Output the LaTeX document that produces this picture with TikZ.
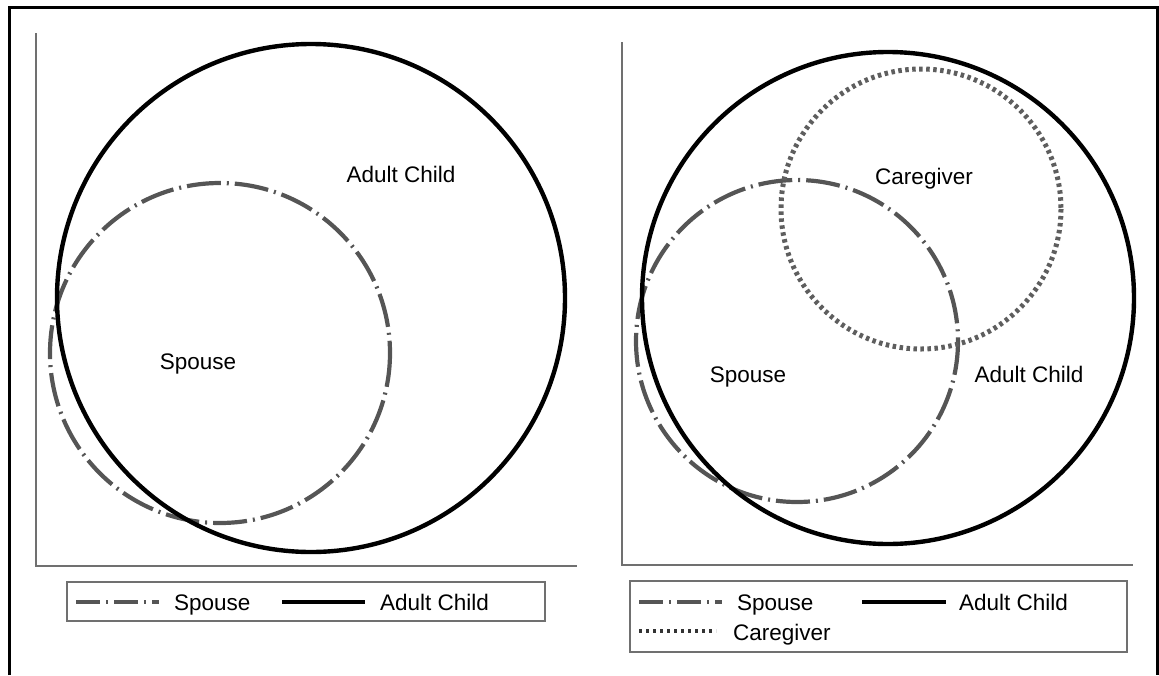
\documentclass[tikz,border=0pt]{standalone}
\usepackage{fontspec}
\setmainfont{Liberation Sans}
\usetikzlibrary{positioning}
\definecolor{spousegray}{HTML}{555555}
\definecolor{caregray}{HTML}{5E5E5E}
\definecolor{axisgray}{HTML}{707070}

\begin{document}
\begin{tikzpicture}[x=1pt, y=-1pt, font=\fontsize{22.5}{26}\selectfont,
  child/.style={draw=black, line width=4.4pt},
  spouse/.style={draw=spousegray, line width=4.2pt, dash pattern=on 34pt off 6pt on 2pt off 6pt},
  carer/.style={draw=caregray, line width=5pt, dash pattern=on 3.5pt off 3.5pt},
  axisline/.style={draw=axisgray, line width=1.8pt},
  legbox/.style={draw=axisgray, line width=1.8pt},
  lab/.style={inner sep=0pt, anchor=base},
  leglab/.style={inner sep=0pt, anchor=base west}]
  \useasboundingbox (0,0) rectangle (1159,675);
  % --- frame ---
  \draw[line width=3pt] (9,675) -- (9,7) -- (1157,7) -- (1157,675);
  % --- panel 1: spouse and adult child ---
  \draw[axisline] (36,33) -- (36,566) -- (577,566);
  \draw[spouse] (220,353) circle (170);
  \draw[child] (311,298) circle (254);
  \node[lab] (childA) at (401,182) {Adult Child};
  \node[lab] (spouseA) at (198,369) {Spouse};
  % --- panel 2: spouse, adult child and caregiver ---
  \draw[axisline] (622,42) -- (622,565) -- (1133,565);
  \draw[spouse] (797,341) circle (161);
  \draw[child] (888,298) circle (246);
  \draw[carer] (921,209) circle (140);
  \node[lab] (careB) at (924,184) {Caregiver};
  \node[lab] (spouseB) at (748,382) {Spouse};
  \node[lab] (childB) at (1029,382) {Adult Child};
  % --- legend 1 ---
  \draw[legbox] (67,582) rectangle (545,621);
  \coordinate (ls0) at (76,602);  \coordinate (ls1) at (159,602);
  \coordinate (lc0) at (282,602); \coordinate (lc1) at (365,602);
  \draw[spouse, line width=4.6pt, dash pattern=on 24pt off 6pt on 2pt off 6pt] (ls0) -- (ls1);
  \draw[child, line width=4.6pt] (lc0) -- (lc1);
  \node[leglab] (legSpouseA) at (174,610) {Spouse};
  \node[leglab] (legChildA) at (380,610) {Adult Child};
  % --- legend 2 ---
  \draw[legbox] (630,581) rectangle (1127,652);
  \coordinate (rs0) at (639,602); \coordinate (rs1) at (722,602);
  \coordinate (rc0) at (862,602); \coordinate (rc1) at (946,602);
  \coordinate (rd0) at (639,631); \coordinate (rd1) at (716,631);
  \draw[spouse, line width=4.6pt, dash pattern=on 24pt off 6pt on 2pt off 6pt] (rs0) -- (rs1);
  \draw[child, line width=4.6pt] (rc0) -- (rc1);
  \draw[carer, draw=black!80, line width=4.6pt, dash pattern=on 3pt off 4pt] (rd0) -- (rd1);
  \node[leglab] (legSpouseB) at (737,610) {Spouse};
  \node[leglab] (legChildB) at (959,610) {Adult Child};
  \node[leglab] (legCareB) at (733,640) {Caregiver};
\end{tikzpicture}
\end{document}
